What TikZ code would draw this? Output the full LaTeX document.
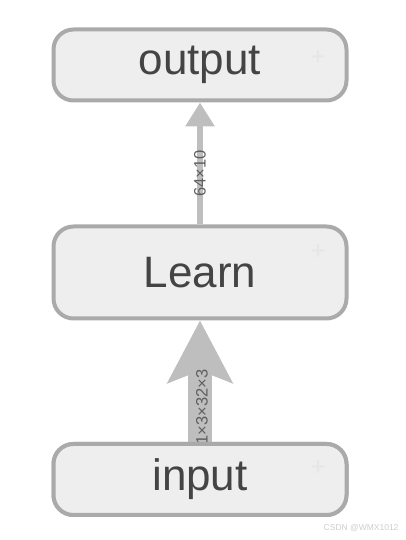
\documentclass[tikz,border=0pt]{standalone}
\usepackage{fontspec}
\setmainfont{Liberation Sans}
\usepackage{tikz}
\usetikzlibrary{arrows.meta, positioning}
\definecolor{boxfill}{RGB}{238,238,238}
\definecolor{boxedge}{RGB}{170,170,170}
\definecolor{boxtext}{RGB}{68,68,68}
\definecolor{flowgray}{RGB}{190,190,190}
\definecolor{shapetext}{RGB}{95,95,95}
\definecolor{markgray}{RGB}{205,205,205}
\definecolor{plusgray}{RGB}{230,230,230}
\tikzset{
  layer/.style={rectangle, draw=boxedge, fill=boxfill, line width=4pt,
    rounded corners=20pt, minimum width=293pt, minimum height=71pt,
    text=boxtext, font=\fontsize{44}{50}\selectfont},
  thinflow/.style={-{Triangle[length=24pt, width=28pt]}, line width=6pt, color=flowgray},
  thickflow/.style={-{Stealth[length=62pt, width=64pt, inset=12pt]}, line width=24pt, color=flowgray},
  dimlabel/.style={rotate=90, text=shapetext, font=\fontsize{16.5}{17}\selectfont, inner sep=0pt},
  plusmark/.style={text=plusgray, font=\fontsize{26}{26}\selectfont}
}

\begin{document}
\begin{tikzpicture}[x=1pt, y=1pt]
  \useasboundingbox (0,0) rectangle (405,540);

  % Layers
  \node[layer] (output) at (200,475) {output};
  \node[layer, minimum height=92pt] (learn) at (200,267.5) {Learn};
  \node[layer] (input) at (200,60.5) {input};

  % Flows between layers
  \draw[thickflow] (input.north) -- (learn.south);
  \draw[thinflow] (learn.north) -- (output.south);

  % Tensor shapes
  \node[dimlabel] (shapeout) at (200,366.5) {64×10};
  \node[dimlabel] (shapein) at (202,133) {1×3×32×3};

  % redraw input on top of its label
  \node[layer] at (input) {input};

  % Faint add marks
  \node[plusmark] (plusout) at (318,482) {+};
  \node[plusmark] (pluslearn) at (318,288) {+};
  \node[plusmark] (plusin) at (318,72) {+};

  % Watermark
  \node[text=markgray, font=\fontsize{8.5}{9}\selectfont, anchor=east] (mark) at (402,12) {CSDN @WMX1012};
\end{tikzpicture}
\end{document}
